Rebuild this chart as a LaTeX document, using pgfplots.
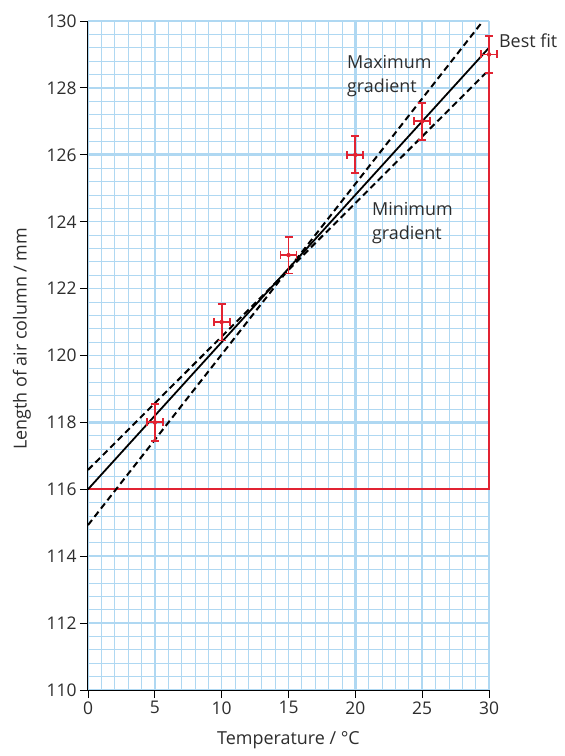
\documentclass[border=0pt]{standalone}
\usepackage{fontspec}
\setmainfont{Open Sans}
\usepackage{pgfplots}
\usepackage{pgfplotstable}
\pgfplotsset{compat=1.18}

\definecolor{gridblue}{RGB}{175,216,242}
\definecolor{errred}{RGB}{225,35,50}
\definecolor{txt}{RGB}{45,45,45}

% measured lengths with their uncertainties
\pgfplotstableread{
x  y    ex   ey
5  118  0.6  0.55
10 121  0.6  0.55
15 123  0.6  0.55
20 126  0.6  0.55
25 127  0.6  0.55
30 129  0.6  0.55
}\measured

\begin{document}
\begin{tikzpicture}
\begin{axis}[
  scale only axis,
  width=401bp, height=669bp,
  xmin=0, xmax=30, ymin=110, ymax=130,
  axis x line*=bottom, axis y line*=left,
  xtick={0,5,...,30}, ytick={110,112,...,130},
  minor x tick num=4, minor y tick num=4,
  grid=both,
  minor grid style={gridblue, line width=0.8bp},
  major grid style={gridblue, line width=1.4bp},
  tick align=outside,
  major tick length=8bp, minor tick length=0pt,
  tick style={black, line width=0.8bp},
  axis line style={black, line width=1bp},
  ticklabel style={font=\fontsize{17.5}{20}\selectfont, text=txt},
  /pgf/number format/assume math mode=true,
  /pgf/number format/1000 sep={},
  label style={font=\fontsize{18}{21}\selectfont, text=txt},
  xlabel={Temperature / °C},
  ylabel={Length of air column / mm},
  xlabel style={at={(axis description cs:0.5,0)}, anchor=center, yshift=-50bp},
  ylabel style={at={(axis description cs:0,0.525)}, anchor=center, yshift=66bp},
  clip=false,
]
% heavy lines of the graph paper
\draw[gridblue, line width=3bp] (axis cs:20,110) -- (axis cs:20,130);
\draw[gridblue, line width=3bp] (axis cs:0,118) -- (axis cs:30,118);
\draw[gridblue, line width=3bp] (axis cs:0,126) -- (axis cs:30,126);

% gradient triangle
\addplot[errred, line width=1.8bp] coordinates {(0,116) (30,116) (30,129.2)};

% best fit and extreme gradients
\addplot[black, line width=1.8bp] coordinates {(0,116) (30,129.2)};
\addplot[black, line width=2bp, dash pattern=on 6.5bp off 4bp] coordinates {(0,114.93) (29.55,130)};
\addplot[black, line width=2bp, dash pattern=on 6.5bp off 4bp] coordinates {(0,116.58) (29.77,128.45)};

% data points with error bars
\addplot[errred, only marks, mark=none,
  error bars/.cd,
    x dir=both, x explicit, y dir=both, y explicit,
    error bar style={errred, line width=1.8bp},
    error mark options={errred, rotate=90, mark size=4bp, line width=1.8bp},
] table[x=x, y=y, x error=ex, y error=ey] {\measured};

\node[anchor=west, inner sep=0pt, text=txt, font=\fontsize{18}{21}\selectfont]
  at (axis cs:30.74,129.4) {Best fit};
\node[anchor=west, inner sep=0pt, align=left, text=txt, font=\fontsize{18}{24}\selectfont]
  at (axis cs:19.37,128.36) {Maximum\\gradient};
\node[anchor=west, inner sep=0pt, align=left, text=txt, font=\fontsize{18}{24}\selectfont]
  at (axis cs:21.24,123.96) {Minimum\\gradient};

\coordinate (SW) at (rel axis cs:0,0);
\coordinate (NE) at (rel axis cs:1,1);
\end{axis}
\pgfresetboundingbox
\path[use as bounding box] ([shift={(-88bp,-66bp)}]SW) rectangle ([shift={(76bp,21bp)}]NE);
\end{tikzpicture}
\end{document}
